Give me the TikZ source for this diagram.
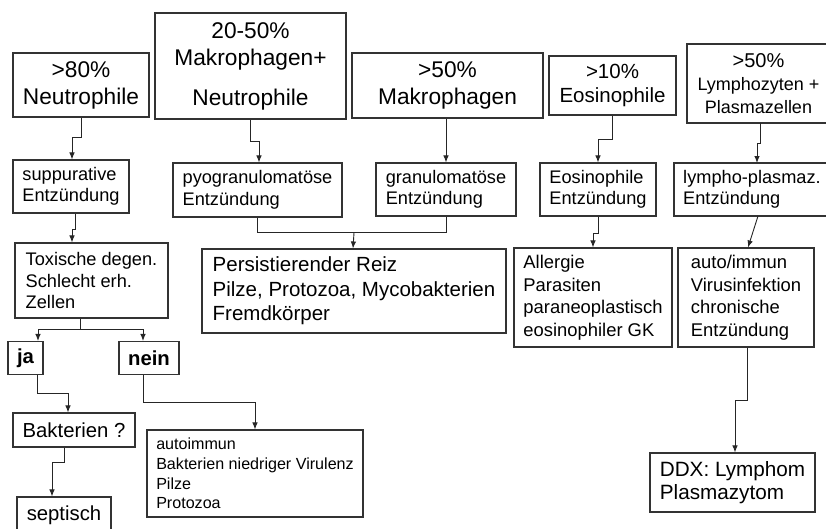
\documentclass[tikz,border=0pt]{standalone}
\usepackage{fontspec}
\setmainfont{Liberation Sans}
\usepackage{tikz}
\usetikzlibrary{arrows.meta}

\newcommand{\fsbig}{\fontsize{22.7pt}{27pt}\selectfont}
\newcommand{\fsmid}{\fontsize{20.5pt}{24.5pt}\selectfont}
\newcommand{\fsnorm}{\fontsize{18.2pt}{21.5pt}\selectfont}
\newcommand{\fssmall}{\fontsize{16.1pt}{19.7pt}\selectfont}

\begin{document}
\begin{tikzpicture}[x=1pt,y=-1pt,
  frame/.style={draw=black!80,line width=1.1pt},
  box/.style={frame,inner sep=0pt,align=center},
  lbox/.style={frame,inner sep=0pt,align=left},
  arr/.style={draw=black!85,line width=0.9pt,-{Latex[length=7pt,width=5.5pt]}},
  link/.style={draw=black!85,line width=0.9pt}]
\useasboundingbox (0,0) rectangle (826,528);
\clip (0,0) rectangle (826,528);
\fill[white] (0,0) rectangle (826,528);

% top row
\node[box,font=\fsbig,minimum width=136pt,minimum height=64pt] (neu) at (81,85) {>80\%\\Neutrophile};
\node[box,font=\fsbig,minimum width=191pt,minimum height=106pt] (mn) at (250.5,66) {20-50\%\\Makrophagen+\\[13pt]Neutrophile};
\node[box,font=\fsbig,minimum width=191pt,minimum height=65pt] (mak) at (447.5,85.5) {>50\%\\Makrophagen};
\node[box,font=\fsmid,minimum width=127pt,minimum height=59pt] (eos) at (612.5,85.5) {>10\%\\Eosinophile};
\node[inner sep=0pt,outer sep=0pt,align=center,font=\fontsize{18pt}{23pt}\selectfont,minimum width=143pt,minimum height=79pt] (lym) at (758.5,83.5) {{\fontsize{20pt}{23pt}\selectfont >50\%}\\Lymphozyten +\\Plasmazellen};
\draw[frame] (lym.south west) rectangle ([xshift=40pt]lym.north east);

% second row
\node[lbox,font=\fsnorm,minimum width=116pt,minimum height=53pt] (sup) at (71,186.5) {suppurative\\Entzündung};
\node[lbox,font=\fsnorm,minimum width=169pt,minimum height=54pt] (pyo) at (257.5,190) {pyogranulomatöse\\Entzündung};
\node[lbox,font=\fsnorm,minimum width=140pt,minimum height=53pt] (gra) at (446,189.5) {granulomatöse\\Entzündung};
\node[lbox,font=\fsnorm,minimum width=116pt,minimum height=53pt] (eoe) at (598,189.5) {Eosinophile\\Entzündung};
\node[inner sep=0pt,outer sep=0pt,align=left,font=\fsnorm,minimum width=156pt,minimum height=53pt] (lpe) at (752,189.5) {lympho-plasmaz.\\Entzündung};
\draw[frame] (lpe.south west) rectangle ([xshift=40pt]lpe.north east);

% third row
\node[lbox,font=\fsnorm,minimum width=153pt,minimum height=75pt] (tox) at (91.5,280.5) {Toxische degen.\\Schlecht erh.\\Zellen};
\node[lbox,font=\fsmid,minimum width=304pt,minimum height=84pt] (per) at (354,291) {Persistierender Reiz\\Pilze, Protozoa, Mycobakterien\\Fremdkörper};
\node[lbox,font=\fontsize{18.4pt}{22.5pt}\selectfont,minimum width=158pt,minimum height=99pt] (all) at (593,297.5) {Allergie\\Parasiten\\paraneoplastisch\\eosinophiler GK};
\node[lbox,font=\fontsize{18.4pt}{22.5pt}\selectfont,minimum width=136pt,minimum height=99pt] (aut) at (746,297.5) {auto/immun\\Virusinfektion\\chronische\\Entzündung};

% left branch
\node[box,font=\fontsize{20.3pt}{24pt}\selectfont\bfseries,minimum width=35pt,minimum height=33pt] (ja) at (25.5,358) {ja};
\node[box,font=\fontsize{20.3pt}{24pt}\selectfont\bfseries,minimum width=60pt,minimum height=33pt] (nein) at (149,358) {nein};
\node[box,font=\fontsize{20.3pt}{24pt}\selectfont,minimum width=122pt,minimum height=34pt] (bak) at (74,430) {Bakterien ?};
\node[box,font=\fontsize{20.3pt}{24pt}\selectfont,minimum width=94pt,minimum height=36pt] (sep) at (64,515) {septisch};
\node[lbox,font=\fssmall,minimum width=216pt,minimum height=87pt] (nbx) at (255,473.5) {autoimmun\\Bakterien niedriger Virulenz\\Pilze\\Protozoa};
\node[lbox,font=\fontsize{20.7pt}{23pt}\selectfont,minimum width=165pt,minimum height=59pt] (ddx) at (732.5,482.5) {DDX: Lymphom\\Plasmazytom};

% connectors
\draw[arr] (neu.south) -- ++(0,20) -| ([xshift=1]sup.north);
\draw[arr] (mn.south) -- ++(0,22) -| ([xshift=1.5]pyo.north);
\draw[arr] (gra.north |- mak.south) -- (gra.north);
\draw[arr] (eos.south) -- ++(0,24) -| (eoe.north);
\draw[arr] ([xshift=1.5]lym.south) -- ++(0,20) -| ([xshift=5]lpe.north);
\draw[arr] ([xshift=4]sup.south) -- ++(0,16) -| ([xshift=-19.5]tox.north);
\draw[link] ([xshift=-11.5]tox.south) -- ++(0,11) coordinate (split);
\draw[arr] (split) -| ([xshift=12.5]ja.north);
\draw[arr] (split) -| ([xshift=-6]nein.north);
\draw[link] (pyo.south) -- ++(0,15) coordinate (join) -| (gra.south);
\draw[arr] (join -| per.north) -- ([xshift=-1]per.north);
\draw[arr] (eoe.south) -- ++(0,17) -| (all.north);
\draw[arr] ([xshift=6]lpe.south) -- ([xshift=2]aut.north);
\draw[arr] ([xshift=1]aut.south) -- ++(0,53) -| ([xshift=2.5]ddx.north);
\draw[arr] ([xshift=11.5]ja.south) -- ++(0,18) -| ([xshift=-6]bak.north);
\draw[arr] ([xshift=-10]bak.south) -- ++(0,15) -| ([xshift=-12]sep.north);
\draw[arr] ([xshift=-6]nein.south) -- ++(0,27) -| (nbx.north);
\end{tikzpicture}
\end{document}
